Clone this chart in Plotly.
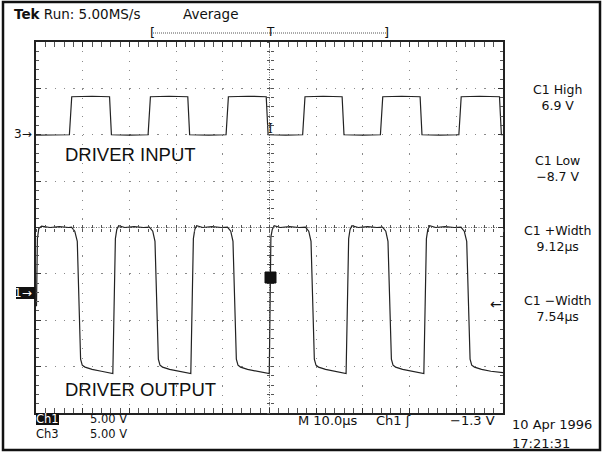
import plotly.graph_objects as go

# ---------------- data (time in microseconds, volts) ----------------
out_t = [-49.9, -49.7, -49.4, -48.8, -47.0, -45.0, -43.0,
         -42.4, -41.7, -41.16, -40.45, -40.1, -39.5, -38.0, -36.0, -34.0,
         -33.55, -33.0, -32.7, -32.3, -31.0, -29.0, -27.0,
         -25.7, -25.0, -24.52, -23.8, -23.45, -22.9, -21.4, -19.4, -17.4,
         -16.85, -16.3, -16.0, -15.6, -14.3, -12.3, -10.3,
         -9.0, -8.3, -7.82, -7.1, -6.75, -6.2, -4.7, -2.7, -0.7,
         -0.05, 0.3, 0.6, 1.0, 2.3, 4.3, 6.3,
         7.7, 8.4, 8.89, 9.6, 9.95, 10.5, 12.0, 14.0, 16.0,
         16.4, 16.95, 17.25, 17.65, 19.0, 21.0, 23.0,
         24.2, 24.9, 25.37, 26.1, 26.45, 27.0, 28.5, 30.5, 32.5,
         33.05, 33.6, 33.9, 34.3, 35.6, 37.6, 39.6,
         41.0, 41.7, 42.23, 42.95, 43.3, 43.9, 45.4, 47.4, 50.0]
out_v = [-1.5, 5.8, 6.9, 7.15, 7.0, 7.1, 7.0,
         7.05, 6.6, 5.5, -7.2, -7.85, -8.05, -8.3, -8.5, -8.65,
         -8.75, 5.8, 6.8, 7.2, 7.0, 7.1, 7.0,
         7.05, 6.6, 5.5, -7.2, -7.85, -8.05, -8.3, -8.5, -8.65,
         -8.75, 5.8, 6.8, 7.2, 7.0, 7.1, 7.0,
         7.05, 6.6, 5.5, -7.2, -7.85, -8.05, -8.3, -8.5, -8.65,
         -8.75, 6.0, 6.8, 7.2, 7.0, 7.1, 7.0,
         7.05, 6.6, 5.5, -7.2, -7.85, -8.05, -8.3, -8.5, -8.65,
         -8.75, 5.8, 6.8, 7.2, 7.0, 7.1, 7.0,
         7.05, 6.6, 5.5, -7.2, -7.85, -8.05, -8.3, -8.5, -8.65,
         -8.75, 5.8, 6.8, 7.2, 7.0, 7.1, 7.0,
         7.05, 6.6, 5.5, -7.2, -7.85, -8.05, -8.3, -8.5, -8.65]

in_t = [-50.0, -46.0, -42.85, -42.35, -38.0, -34.25, -33.85, -30.0,
        -26.0, -25.5, -21.5, -17.5, -17.1, -13.0,
        -9.3, -8.8, -4.6, -0.7, -0.3, 3.5,
        7.1, 7.6, 11.5, 15.55, 15.95, 20.0,
        23.75, 24.25, 28.3, 32.25, 32.65, 36.5,
        40.55, 41.05, 45.0, 49.25, 49.65, 50.0]
in_v = [-0.05, 0.0, 0.0, 4.1, 4.15, 4.1, 0.0, -0.05,
        0.0, 4.1, 4.15, 4.1, 0.0, -0.05,
        0.0, 4.1, 4.15, 4.1, 0.0, -0.05,
        0.0, 4.1, 4.15, 4.1, 0.0, -0.05,
        0.0, 4.1, 4.15, 4.1, 0.0, -0.05,
        0.0, 4.1, 4.15, 4.1, 0.0, 0.0]

ch1_range = [-13, 27]   # 5 V/div, ground at -1.4 div
ch3_range = [-30, 10]   # 5 V/div, ground at +2 div

header = "<b>Tek</b> Run: 5.00MS/s"
mode_label = "Average"
measurements = [("C1 High", "6.9 V"), ("C1 Low", "\u22128.7 V"),
                ("C1 +Width", "9.12\u00b5s"), ("C1 \u2212Width", "7.54\u00b5s")]
labels = ["DRIVER INPUT", "DRIVER OUTPUT"]
channels = ["Ch1", "Ch3"]
volts_per_div = ["5.00 V", "5.00 V"]

# ---------------- figure ----------------
W, H = 603, 453
L, R, T, B = 36, 503, 42, 413


def px(x):
    return (x - L) / (R - L)


def py(y):
    return (B - y) / (B - T)


trace_col = "#222222"
fig = go.Figure()
fig.add_trace(go.Scatter(x=out_t, y=out_v, mode="lines", xaxis="x", yaxis="y2",
                         line=dict(color=trace_col, width=1.2), hoverinfo="skip"))
fig.add_trace(go.Scatter(x=in_t, y=in_v, mode="lines", xaxis="x", yaxis="y3",
                         line=dict(color=trace_col, width=1.2), hoverinfo="skip"))
# invisible traces so the crosshair tick axes are drawn
fig.add_trace(go.Scatter(x=[None], y=[None], xaxis="x2", yaxis="y4", showlegend=False))
fig.add_trace(go.Scatter(x=[None], y=[None], xaxis="x3", yaxis="y5", showlegend=False))

grid_col = "#8a8a8a"
fig.update_layout(
    width=W, height=H, showlegend=False,
    margin=dict(l=L, r=W - R, t=T, b=H - B, pad=0),
    paper_bgcolor="white", plot_bgcolor="white",
    xaxis=dict(range=[-50, 50], dtick=10, tick0=0, showticklabels=False,
               showgrid=True, gridcolor=grid_col, gridwidth=1.2, griddash="1.2px,8.08px",
               zeroline=False, showline=True, linecolor="#222", linewidth=1.5,
               mirror="allticks", ticks="inside", ticklen=5, tickcolor="#333",
               minor=dict(dtick=2, ticks="inside", ticklen=3, tickcolor="#555", showgrid=False)),
    yaxis=dict(range=[-4, 4], dtick=1, tick0=0, showticklabels=False,
               showgrid=True, gridcolor=grid_col, gridwidth=1.2, griddash="1.2px,8.14px",
               zeroline=False, showline=True, linecolor="#222", linewidth=1.5,
               mirror="allticks", ticks="inside", ticklen=5, tickcolor="#333",
               minor=dict(dtick=0.2, ticks="inside", ticklen=3, tickcolor="#555", showgrid=False)),
    yaxis2=dict(range=ch1_range, overlaying="y", visible=False),
    yaxis3=dict(range=ch3_range, overlaying="y", visible=False),
    xaxis2=dict(range=[-50, 50], overlaying="x", anchor="free", position=0.5,
                showgrid=False, zeroline=False, showline=False, showticklabels=False,
                dtick=2, ticks="inside", ticklen=3, tickcolor="#555"),
    xaxis3=dict(range=[-50, 50], overlaying="x", anchor="free", position=0.5,
                showgrid=False, zeroline=False, showline=False, showticklabels=False,
                dtick=2, ticks="outside", ticklen=3, tickcolor="#555"),
    yaxis4=dict(range=[-4, 4], overlaying="y", anchor="free", position=0.5,
                showgrid=False, zeroline=False, showline=False, showticklabels=False,
                dtick=0.2, ticks="inside", ticklen=3, tickcolor="#555"),
    yaxis5=dict(range=[-4, 4], overlaying="y", anchor="free", position=0.5,
                showgrid=False, zeroline=False, showline=False, showticklabels=False,
                dtick=0.2, ticks="outside", ticklen=3, tickcolor="#555"),
)

shapes = []
# centre crosshair (dense dotted)
shapes.append(dict(type="line", xref="x", yref="y", x0=0, x1=0, y0=-4, y1=4,
                   line=dict(color="#666", width=1, dash="1px,1.5px"), layer="below"))
shapes.append(dict(type="line", xref="x", yref="y", x0=-50, x1=50, y0=0, y1=0,
                   line=dict(color="#666", width=1, dash="1px,1.5px"), layer="below"))
# outer frame
shapes.append(dict(type="rect", xref="paper", yref="paper",
                   x0=px(3), x1=px(600), y0=py(450), y1=py(2),
                   line=dict(color="#111", width=2.5)))
# top trigger bracket dotted line
shapes.append(dict(type="line", xref="paper", yref="paper", x0=px(153), x1=px(386),
                   y0=py(33), y1=py(33), line=dict(color="#555", width=1, dash="1px,1px")))
# black boxes for inverted labels
for (x0, x1, y0, y1) in [(16, 35, 287, 299), (36, 59, 413, 425)]:
    shapes.append(dict(type="rect", xref="paper", yref="paper",
                       x0=px(x0), x1=px(x1), y0=py(y1), y1=py(y0),
                       fillcolor="#111", line=dict(width=0)))
# trigger-level square marker
shapes.append(dict(type="rect", xref="paper", yref="paper",
                   x0=px(265), x1=px(276), y0=py(283), y1=py(272),
                   fillcolor="#111", line=dict(color="#111", width=1)))
fig.update_layout(shapes=shapes)

F = "DejaVu Sans"
ann = []


def text(x, y, s, size=13, xanchor="left", color="#111", family=F, yanchor="middle", align="center"):
    ann.append(dict(x=px(x), y=py(y), xref="paper", yref="paper", text=s, showarrow=False,
                    xanchor=xanchor, yanchor=yanchor, align=align,
                    font=dict(family=family, size=size, color=color)))


text(12, 14, header, 13.5)
text(181, 14, mode_label, 13.5)
text(152, 33, "[", 13, "center")
text(386, 33, "]", 13, "center")
text(270, 32, "T", 12, "center")
text(270, 129, "I", 12, "center", family="DejaVu Serif")
text(34, 134, "3\u2192", 12, "right")
text(34, 293, "1\u2192", 12, "right", color="white")
text(63, 154, labels[0], 18.5, family="Liberation Sans")
text(63, 389, labels[1], 18.5, family="Liberation Sans")
for i, (a, b) in enumerate(measurements):
    yc = 98 + i * 70.3
    text(557, yc, a + "<br>" + b, 12.5, "center")
text(496, 304, "\u2190", 14, "center")
text(47, 426.5, '<span style="color:white">%s</span><br>%s' % tuple(channels), 11.5, "center")
text(88, 426.5, "<br>".join(volts_per_div), 11.5, align="left")
text(296, 420, "M 10.0\u00b5s", 13)
text(374, 420, "Ch1 \u0283", 13)
text(497, 420, "\u22121.3 V", 13, "right")
text(510, 424, "10 Apr 1996", 13)
text(510, 443, "17:21:31", 13)
fig.update_layout(annotations=ann)

fig.write_html("out.html", config={"displayModeBar": False},
               post_script="document.body.style.margin='0';")
